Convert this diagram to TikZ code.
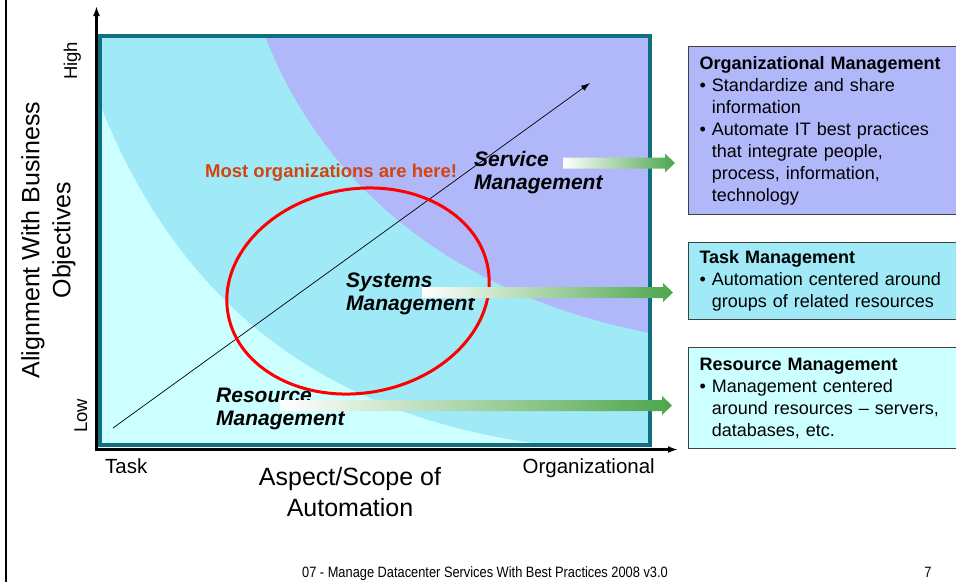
\documentclass[tikz,border=0pt]{standalone}
\usepackage{fontspec}
\setmainfont{Liberation Sans}
\newfontfamily\footfont[FakeStretch=0.855]{Liberation Sans}
\usepackage{tikz}
\usetikzlibrary{
    arrows.meta,
    calc,
    positioning
}

\definecolor{resfill}{RGB}{204,255,255}
\definecolor{sysfill}{RGB}{160,234,248}
\definecolor{orgfill}{RGB}{176,184,250}
\definecolor{chartedge}{RGB}{16,112,128}
\definecolor{arrowgreen}{RGB}{76,166,76}
\definecolor{herered}{RGB}{210,68,16}

\tikzset{
    levellabel/.style={anchor=north west, inner sep=0pt, align=left,
        font=\fontsize{21}{23}\selectfont\bfseries\itshape},
    infobox/.style={draw=black!75, line width=1pt, anchor=north west,
        inner xsep=11pt, inner ysep=0pt, text width=250pt, align=left,
        font=\fontsize{18}{22}\selectfont},
    axislabel/.style={inner sep=0pt, align=center, font=\fontsize{25}{31}\selectfont},
    ticklabel/.style={inner sep=0pt, font=\fontsize{20.5}{24}\selectfont}
}

\begin{document}
\begin{tikzpicture}[x=1pt, y=-1pt]
    \def\fatarrow(#1)(#2){%
        \shade[left color=white, right color=arrowgreen]
            ($(#1)+(0,-5.5)$) -- ($(#2)+(-10,-5.5)$) -- ($(#2)+(-10,-9.5)$) -- (#2)
            -- ($(#2)+(-10,9.5)$) -- ($(#2)+(-10,5.5)$) -- ($(#1)+(0,5.5)$) -- cycle;}
    \def\bitem{\textbullet\ }
    \def\bcont{\phantom{\textbullet\ }}

    \useasboundingbox (0,0) rectangle (956,582);
    \clip (0,0) rectangle (956,582);

    % page frame
    \draw[line width=2pt] (6,0) -- (6,582);

    % bands of the chart
    \fill[sysfill] (100,36) rectangle (649.5,445);
    \fill[resfill] (101,107) .. controls (170,280) and (300,415) .. (548,445) -- (100,445) -- cycle;
    \fill[orgfill] (265,36) .. controls (315,165) and (430,290) .. (650,333) -- (650,36) -- cycle;
    \draw[chartedge, line width=4pt] (100,36) rectangle (649.5,445);

    % axes
    \coordinate (origin) at (96.5,449.5);
    \coordinate (yend)   at (96.5,6);
    \coordinate (xend)   at (678,449.5);
    \draw[{Latex[length=10pt,width=7pt]}-{Latex[length=10pt,width=7pt]}, line width=2.5pt]
        (yend) -- (origin) -- (xend);

    % growth line
    \coordinate (growstart) at (113,428);
    \coordinate (growend)   at (590,83);
    \draw[-{Latex[length=9pt,width=6pt]}, line width=0.7pt] (growstart) -- (growend);

    % where most are
    \draw[red, line width=3pt, rotate around={10:(358,291)}]
        (358,291) ellipse [x radius=132, y radius=102];
    \node[anchor=base west, inner sep=0pt, text=herered,
        font=\fontsize{18.5}{22}\selectfont\bfseries] (herenote) at (205,177)
        {Most organizations are here!};

    % levels
    \node[levellabel] (servlabel) at (474,151) {Service\\Management};
    \node[levellabel] (syslabel)  at (346,273) {Systems\\Management};
    \node[levellabel] (reslabel)  at (216,388) {Resource\\Management};

    \coordinate (servfrom) at (563,163);
    \coordinate (servto)   at (675,163);
    \coordinate (sysfrom)  at (422,292.5);
    \coordinate (systo)    at (673,292.5);
    \coordinate (resfrom)  at (280,405.5);
    \coordinate (resto)    at (672,405.5);
    \fatarrow(servfrom)(servto)
    \fatarrow(sysfrom)(systo)
    \fatarrow(resfrom)(resto)

    % axis labels
    \node[ticklabel, anchor=base west] (tasklabel) at (105,473) {Task};
    \node[ticklabel, anchor=base east] (orglabel)  at (655,473) {Organizational};
    \node[axislabel, anchor=north] (scopelabel) at (350,467) {Aspect/Scope of\\Automation};
    \node[axislabel, rotate=90, anchor=north] (alignlabel) at (21,240)
        {Alignment With Business\\Objectives};
    \node[ticklabel, rotate=90, anchor=base west, font=\fontsize{18.5}{22}\selectfont]
        (highlabel) at (77,80) {High};
    \node[ticklabel, rotate=90, anchor=base west, font=\fontsize{18.5}{22}\selectfont]
        (lowlabel) at (87,433) {Low};

    % boxes
    \node[infobox, fill=orgfill, minimum height=168pt] (orgbox) at (688,46)
        {\textbf{Organizational Management}\\
         \bitem Standardize and share\\
         \bcont information\\
         \bitem Automate IT best practices\\
         \bcont that integrate people,\\
         \bcont process, information,\\
         \bcont technology};
    \node[infobox, fill=sysfill, minimum height=77pt,
        below=27pt of orgbox.south west, anchor=north west] (taskbox)
        {\textbf{Task Management}\\
         \bitem Automation centered around\\
         \bcont groups of related resources};
    \node[infobox, fill=resfill, minimum height=101pt,
        below=27pt of taskbox.south west, anchor=north west] (resbox)
        {\textbf{Resource Management}\\
         \bitem Management centered\\
         \bcont around resources – servers,\\
         \bcont databases, etc.};

    % footer
    \node[anchor=base, inner sep=0pt, font=\footfont\fontsize{15}{18}\selectfont]
        (footer) at (485,577) {07 - Manage Datacenter Services With Best Practices 2008 v3.0};
    \node[anchor=base, inner sep=0pt, font=\footfont\fontsize{15}{18}\selectfont]
        (pagenum) at (928,577) {7};
\end{tikzpicture}
\end{document}
